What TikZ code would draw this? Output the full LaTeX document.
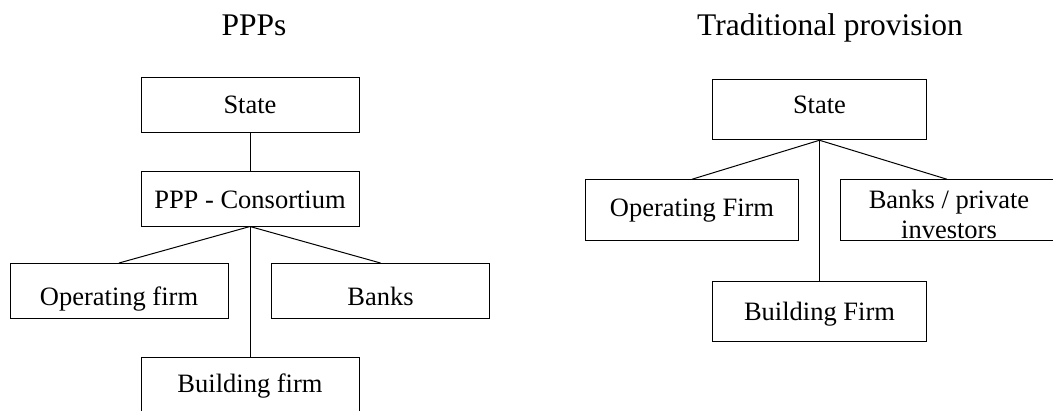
\documentclass[tikz,border=0pt]{standalone}
\usepackage{fontspec}
\setmainfont{Liberation Serif}
\usetikzlibrary{positioning}

\tikzset{
    box/.style={draw, line width=1pt, inner sep=0pt, minimum width=218pt, minimum height=55pt,
        text depth=0pt, text height=18pt, font=\fontsize{26.5}{30}\selectfont},
    rbox/.style={box, minimum width=213.5pt, minimum height=60.5pt},
    title/.style={anchor=base, inner sep=0pt, font=\fontsize{31.5}{36}\selectfont},
    link/.style={line width=1pt}
}

\begin{document}
\begin{tikzpicture}[x=1pt, y=-1pt]
            \useasboundingbox (0,0) rectangle (1053,410);
            % PPPs
            \node[title] (t1) at (254,35) {PPPs};
            \node[box, text height=17.6pt] (s1) at (250,104.5) {State};
            \node[box, text height=19.6pt] (c1) at (250,198.5) {PPP - Consortium};
            \node[box, text height=28pt] (o1) at (119,291) {Operating firm};
            \node[box, text height=28pt] (b1) at (380.5,291) {Banks};
            \node[box, text height=15pt] (f1) at (250,384.5) {Building firm};
            \draw[link] (s1.south) -- (c1.north);
            \foreach \t in {o1,b1,f1}{%
                    \draw[link] (c1.south) -- (\t.north);
                }
            % Traditional provision
            \node[title] (t2) at (830,35) {Traditional provision};
            \node[rbox, text height=7.6pt] (s2) at (819.5,109.5) {State};
            \node[rbox, text height=13.4pt] (o2) at (692,210) {Operating Firm};
            \node[rbox] (b2) at (947,210) {};
            \node[align=center, anchor=base, inner sep=0pt,
                font=\fontsize{26.5}{30}\selectfont] (b2t) at (949,238) {Banks / private\\investors};
            \node[rbox, text height=17pt] (f2) at (819.5,311.5) {Building Firm};
            \foreach \t in {o2,b2,f2}{%
                    \draw[link] (s2.south) -- (\t.north);
                }
        \end{tikzpicture}
\end{document}
